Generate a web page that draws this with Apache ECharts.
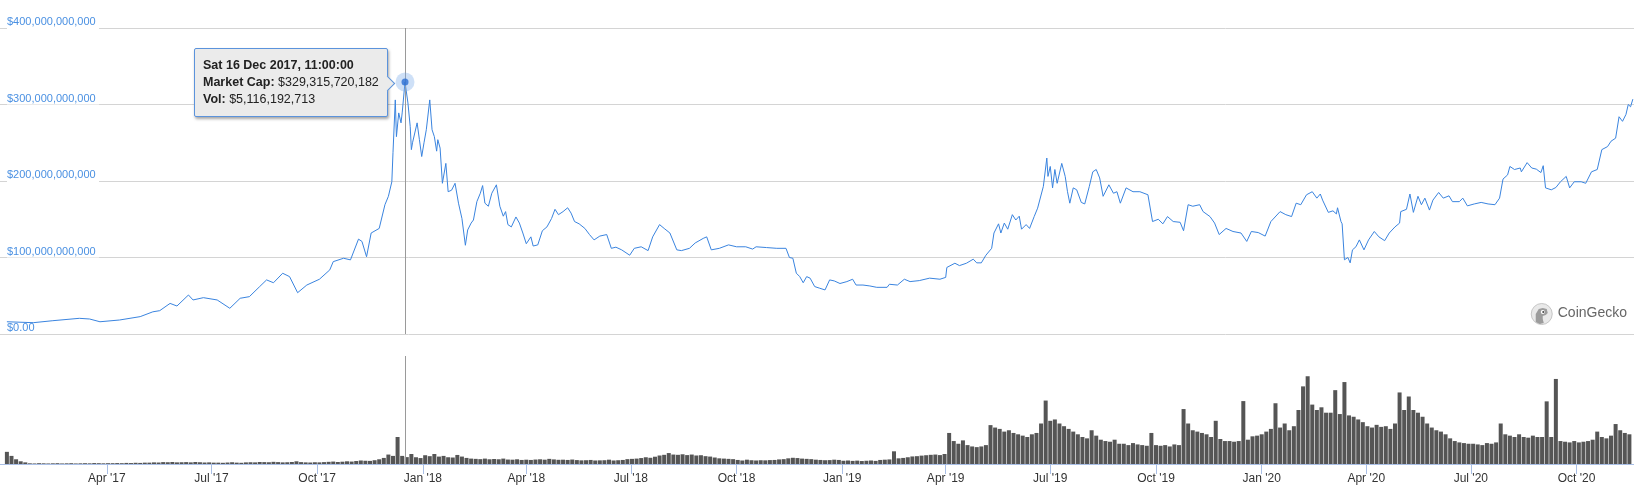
<!DOCTYPE html>
<html>
<head>
<meta charset="utf-8">
<script src="https://cdn.jsdelivr.net/npm/echarts@6/dist/echarts.min.js"></script>
<style>
html,body{margin:0;padding:0;background:#fff;}
#chart{width:1634px;height:501px;}
</style>
</head>
<body>
<div id="chart"></div>
<script>
// ---- Market cap (billions USD) ----
const mcapDates = [
'2017-01-04','2017-01-27','2017-02-13','2017-03-08','2017-03-17','2017-03-26','2017-04-12','2017-04-30','2017-05-11','2017-05-17',
'2017-05-26','2017-06-01','2017-06-11','2017-06-15','2017-06-24','2017-07-06','2017-07-17','2017-07-26','2017-08-03','2017-08-12',
'2017-08-18','2017-08-24','2017-09-01','2017-09-07','2017-09-14','2017-09-22','2017-10-03','2017-10-12','2017-10-15','2017-10-24',
'2017-10-30','2017-11-06','2017-11-09','2017-11-13','2017-11-17','2017-11-24','2017-11-29','2017-12-02','2017-12-05','2017-12-06',
'2017-12-08','2017-12-09','2017-12-11','2017-12-13','2017-12-14','2017-12-16 11:00:00','2017-12-19','2017-12-21','2017-12-22','2017-12-23',
'2017-12-27','2017-12-29','2017-12-31','2018-01-02','2018-01-04','2018-01-07','2018-01-09','2018-01-11','2018-01-13','2018-01-14',
'2018-01-16','2018-01-18','2018-01-19','2018-01-21','2018-01-23','2018-01-26','2018-01-29','2018-02-01','2018-02-04','2018-02-07',
'2018-02-09','2018-02-12','2018-02-14','2018-02-17','2018-02-20','2018-02-22','2018-02-24','2018-02-27','2018-03-02','2018-03-06',
'2018-03-09','2018-03-12','2018-03-14','2018-03-16','2018-03-19','2018-03-23','2018-03-26','2018-03-29','2018-04-01','2018-04-05',
'2018-04-07','2018-04-11','2018-04-15','2018-04-19','2018-04-23','2018-04-26','2018-04-29','2018-05-03','2018-05-07','2018-05-10',
'2018-05-13','2018-05-17','2018-05-22','2018-05-26','2018-05-30','2018-06-04','2018-06-10','2018-06-14','2018-06-18','2018-06-23',
'2018-06-30','2018-07-04','2018-07-10','2018-07-16','2018-07-20','2018-07-26','2018-07-30','2018-08-04','2018-08-10','2018-08-14',
'2018-08-21','2018-08-26','2018-09-02','2018-09-05','2018-09-09','2018-09-16','2018-09-24','2018-10-01','2018-10-09','2018-10-15',
'2018-10-18','2018-10-27','2018-11-05','2018-11-13','2018-11-16','2018-11-19','2018-11-22','2018-11-25','2018-11-28','2018-12-01',
'2018-12-04','2018-12-08','2018-12-12','2018-12-17','2018-12-21','2018-12-25','2018-12-30','2019-01-05','2019-01-10','2019-01-13',
'2019-01-19','2019-01-25','2019-01-31','2019-02-09','2019-02-11','2019-02-18','2019-02-24','2019-03-01','2019-03-09','2019-03-18',
'2019-03-27','2019-04-01','2019-04-02','2019-04-09','2019-04-13','2019-04-19','2019-04-25','2019-04-28','2019-05-02','2019-05-06',
'2019-05-11','2019-05-13','2019-05-17','2019-05-19','2019-05-22','2019-05-25','2019-05-29','2019-06-01','2019-06-04','2019-06-06',
'2019-06-10','2019-06-13','2019-06-17','2019-06-20','2019-06-25','2019-06-28','2019-06-29','2019-07-01','2019-07-03','2019-07-05',
'2019-07-07','2019-07-11','2019-07-14','2019-07-16','2019-07-18','2019-07-21','2019-07-24','2019-07-28','2019-07-31','2019-08-04',
'2019-08-07','2019-08-10','2019-08-13','2019-08-16','2019-08-21','2019-08-25','2019-08-28','2019-08-31','2019-09-05','2019-09-11',
'2019-09-17','2019-09-24','2019-09-28','2019-10-03','2019-10-07','2019-10-11','2019-10-16','2019-10-22','2019-10-25','2019-10-29',
'2019-11-02','2019-11-08','2019-11-11','2019-11-17','2019-11-21','2019-11-25','2019-12-01','2019-12-07','2019-12-14','2019-12-19',
'2019-12-23','2019-12-29','2020-01-04','2020-01-09','2020-01-17','2020-01-22','2020-01-27','2020-01-31','2020-02-04','2020-02-09',
'2020-02-14','2020-02-18','2020-02-21','2020-02-23','2020-02-28','2020-03-03','2020-03-06','2020-03-07','2020-03-10','2020-03-11',
'2020-03-13','2020-03-16','2020-03-18','2020-03-20','2020-03-23','2020-03-26','2020-03-30','2020-04-03','2020-04-08','2020-04-12',
'2020-04-17','2020-04-21','2020-04-26','2020-04-30','2020-05-01','2020-05-06','2020-05-09','2020-05-12','2020-05-16','2020-05-19',
'2020-05-22','2020-05-26','2020-05-29','2020-06-03','2020-06-07','2020-06-12','2020-06-15','2020-06-21','2020-06-24','2020-06-28',
'2020-07-04','2020-07-10','2020-07-16','2020-07-22','2020-07-26','2020-07-29','2020-08-02','2020-08-04','2020-08-08','2020-08-13',
'2020-08-14','2020-08-19','2020-08-23','2020-08-27','2020-08-31','2020-09-02','2020-09-04','2020-09-09','2020-09-13','2020-09-17',
'2020-09-22','2020-09-25','2020-09-29','2020-10-05','2020-10-09','2020-10-14','2020-10-19','2020-10-23','2020-10-28','2020-10-31',
'2020-11-04','2020-11-07','2020-11-10','2020-11-13','2020-11-15','2020-11-17','2020-11-19'
];
const mcapBillions = [
16,14.8,17.4,20.5,19.6,16,18.3,22.7,29,30.5,
40,36.6,51,44.5,47.5,44.5,33.6,46.7,48.8,62,
70.7,67,79.4,75,54,64,71.6,83.8,94.6,99,
96.9,124,121,101,132,138,169,180,199,237,
306,258,289,276,289,329.315720182,302,271,241,250,
276,254,232,250,267,306,267,258,239,254,
243,197,195,223,186,188,197,171,151,116,
136,145,149,173,184,194,171,167,184,195,
167,154,160,143,140,153,145,132,118,127,
115,116.5,135,140,151,163,156,160,165,158,
147,144,138,130,123,128,130,112,113.5,110,
103,112,114,109,127,143,138,132,110,109,
112,119,125,127,110,112,116.5,114,114,111,
114,113,112,112,100,99,79.5,75,67,75,
73,62,60,57.6,70.7,69.4,66,68.5,71.6,64,
64,62.8,61,61,65,64,71.6,68.5,69.8,73,
71.6,74,87,92.5,89.4,92.5,97.8,93,93,103,
112,132,144,132,145,137,156,149,154,137,
143,138,153.5,164.5,193,230,206,219,191,215,
197,223,206,186,171,191,188.5,172,170,193,
212,215,204,180,195,184,186,171,191,186,
186,182,147,150,144,153.5,147,146,135,169,
167,169,160,153.5,145,130,138,134,132,121,
134,132.6,128,147,160,156,153.5,171,169,182,
186,177.6,183,175,159,161,157,165,147,144,
97,100,93,110,114,123,110,123,134,127,
122,132,140,145,160,163,183,159,180,169,
177.6,162,175,185,177.6,180.6,173,173,177.6,167.5,
170,172,170,169,177.6,202.5,208,219,215,217,
212,224,217,215.5,211,220,191,188.5,191.5,199,
206,191,199,199,197,212,215,241,245,252,
256,284,278,287,300,297,307
];

// ---- Volume (billions USD), one bar every volStepDays days from volStart ----
const volStart = '2017-01-04';
const volStepDays = 4;
const volBillions = [
// 2017
9,6,3.5,2,1.2,
0.5,0.4,0.6,0.5,0.4,0.5,0.6,0.4,0.5,0.6,
0.4,0.5,0.6,0.5,0.7,0.6,0.5,0.6,
0.6,0.7,0.6,0.8,0.7,0.9,0.8,1.0,
1.0,1.2,1.1,1.4,1.3,1.5,1.2,
1.3,1.4,1.2,1.5,1.3,1.1,1.2,1.0,
1.0,0.9,1.1,1.3,1.0,0.9,1.2,
1.3,1.2,1.5,1.4,1.3,1.6,1.4,1.2,
1.3,1.5,2.0,1.4,1.2,1.1,1.3,
1.2,1.4,1.6,1.8,1.5,1.7,2.0,1.8,
2.2,2.6,2.4,2.3,2.8,3.5,4.5,7,
6,20,6,5.1,7.4,5,4.4,
// 2018
6.5,5.8,7.4,5.5,6,5,4.8,6.7,
5.5,4.5,4,3.8,3.6,4,3.5,
3.7,3.5,4,3.3,3.2,3.5,3,3.2,
3,3.3,3.5,3.2,3.8,3.4,3.1,
3.2,3.0,3.3,2.9,2.7,2.8,3.0,2.6,
2.7,2.8,3.2,2.6,2.8,3.0,3.6,
3.8,4.0,4.4,5.0,4.6,5.4,6.3,6.8,
8.1,7.0,6.8,7.2,6.6,7.0,6.3,6.5,
5.8,5.5,4.8,4.2,4.0,3.8,3.6,
3.0,2.6,3.2,2.8,2.6,2.8,2.7,2.9,
3.0,3.4,3.6,4.2,4.6,4.4,4.0,3.8,
3.6,3.2,3.0,2.8,2.9,3.2,3.0,
// 2019
2.4,2.6,2.3,2.5,2.2,2.4,2.6,2.3,
3.0,3.2,3.4,9.4,4.2,4.5,5.0,
5.6,5.8,6.2,6.5,6.8,7.0,6.6,7.4,
23,17,15,17.5,14,13,12.5,
13,14,28.8,27,26,24,25,23,
22,21,20,22,23,30,47,
32,33,30,28,26,24,22,20,
19,25,21,18,17,16.5,18,15,
15,14,15.5,14.5,14,13.5,23,
14,13.5,14,13,14.5,14,40.7,30,
25,24,23,22,20,32,18.5,17,
17,16.5,17,46.6,18,20.5,21,
// 2020
22,24,26,45,27,30,25,28,
40,57.5,65,44,40,42,38,
38,54.7,37,60.7,36,35,33,31,
28,27,29,27.5,28,26,30,53,
40,50,40,38,35,30,27,
25,24,22,19,17,16,15.5,15,
15,14.5,14,15.5,15,16,30,22,
21,20,22,20,19.5,21,20,
20,46.4,20,63,17,16.5,16,17,
16,16.5,17,18,24,20,19,21,
29.6,25,23,22
];

// ---- Axis ticks ----
const xTickDates = ['2017-04-01','2017-07-01','2017-10-01','2018-01-01','2018-04-01','2018-07-01','2018-10-01',
  '2019-01-01','2019-04-01','2019-07-01','2019-10-01','2020-01-01','2020-04-01','2020-07-01','2020-10-01'];
const xTickLabels = ["Apr '17","Jul '17","Oct '17","Jan '18","Apr '18","Jul '18","Oct '18",
  "Jan '19","Apr '19","Jul '19","Oct '19","Jan '20","Apr '20","Jul '20","Oct '20"];
const yTickBillions = [0, 100, 200, 300, 400];
const xRange = ['2016-12-29', '2020-11-20'];

// ---- Highlighted point (tooltip) ----
const highlight = { time: '2017-12-16 11:00:00', marketCap: 329315720182, volume: 5116192713 };

function toTime(s) {
  const m = s.match(/(\d+)-(\d+)-(\d+)(?: (\d+):(\d+):(\d+))?/);
  return new Date(+m[1], +m[2] - 1, +m[3], +(m[4] || 0), +(m[5] || 0), +(m[6] || 0)).getTime();
}
const lineData = mcapDates.map((d, i) => [toTime(d), mcapBillions[i]]);
const vs = volStart.split('-').map(Number);
const volData = volBillions.map((v, i) => [new Date(vs[0], vs[1] - 1, vs[2] + i * volStepDays).getTime(), v]);
const tickTimes = xTickDates.map(toTime);
const hlTime = toTime(highlight.time);
const hlCap = highlight.marketCap / 1e9;
const xMin = toTime(xRange[0]), xMax = toTime(xRange[1]);

function fmtMoney(n) { return '$' + Math.round(n).toLocaleString('en-US'); }
function fmtDate(t) {
  const d = new Date(t);
  const days = ['Sun','Mon','Tue','Wed','Thu','Fri','Sat'];
  const months = ['Jan','Feb','Mar','Apr','May','Jun','Jul','Aug','Sep','Oct','Nov','Dec'];
  const p = n => String(n).padStart(2, '0');
  return days[d.getDay()] + ' ' + d.getDate() + ' ' + months[d.getMonth()] + ' ' + d.getFullYear() + ', ' +
    p(d.getHours()) + ':' + p(d.getMinutes()) + ':' + p(d.getSeconds());
}
function tickLabel(v) {
  for (let i = 0; i < tickTimes.length; i++) if (Math.abs(tickTimes[i] - v) < 43200000) return xTickLabels[i];
  return '';
}

const FONT = "'Liberation Sans', Arial, sans-serif";
const YCOLOR = '#4a90e2';
const chart = echarts.init(document.getElementById('chart'), null, { renderer: 'canvas' });

function crossLine() {
  return {
    silent: true, symbol: 'none', animation: false,
    label: { show: false },
    lineStyle: { color: '#9a9a9a', width: 1, type: 'solid' },
    data: [{ xAxis: hlTime }]
  };
}

const option = {
  animation: false,
  backgroundColor: '#fff',
  grid: [
    { left: 0, right: 0, top: 28, height: 306 },
    { left: 0, right: 0, top: 356, height: 108 }
  ],
  xAxis: [
    { type: 'value', gridIndex: 0, min: xMin, max: xMax, show: false, splitLine: { show: false } },
    {
      type: 'value', gridIndex: 1, min: xMin, max: xMax,
      axisLine: { show: true, lineStyle: { color: '#a9bfe6', width: 1 } },
      axisTick: { show: true, customValues: tickTimes, length: 10, lineStyle: { color: '#a9bfe6' } },
      axisLabel: { customValues: tickTimes, margin: 9, color: '#333', fontSize: 12, fontFamily: FONT, formatter: tickLabel },
      splitLine: { show: false }
    }
  ],
  yAxis: [
    {
      type: 'value', gridIndex: 0, min: yTickBillions[0], max: yTickBillions[yTickBillions.length - 1], interval: 100,
      axisLine: { show: false }, axisTick: { show: false },
      axisLabel: {
        inside: true, margin: 7, color: YCOLOR, fontSize: 11, fontFamily: FONT,
        verticalAlign: 'middle', lineHeight: 12,
        formatter: v => v === 0 ? '{z|$0.00}\n{z| }' : '{t|' + fmtMoney(v * 1e9) + '}\n{c| }',
        rich: {
          t: { color: YCOLOR, fontSize: 11, fontFamily: FONT, lineHeight: 12, backgroundColor: '#fff', padding: [0, 3, 0, 0] },
          c: { width: 92, height: 12, lineHeight: 12, backgroundColor: '#fff' },
          z: { color: YCOLOR, fontSize: 11, fontFamily: FONT, lineHeight: 12 }
        }
      },
      splitLine: { show: true, lineStyle: { color: '#d4d4d4', width: 1 } }
    },
    { type: 'value', gridIndex: 1, min: 0, max: 80, show: false, splitLine: { show: false } }
  ],
  tooltip: {
    trigger: 'item', triggerOn: 'none', alwaysShowContent: true, transitionDuration: 0,
    backgroundColor: '#ebebeb', borderColor: '#5b93dc', borderWidth: 1, padding: [8, 8],
    textStyle: { color: '#222', fontSize: 12.5, fontFamily: FONT },
    extraCssText: 'box-shadow:1px 2px 3px rgba(0,0,0,0.35);border-radius:2px;line-height:17px;',
    position: function (pt, params, dom, rect, size) {
      const p = chart.convertToPixel({ xAxisIndex: 0, yAxisIndex: 0 }, [hlTime, hlCap]);
      return [p[0] - size.contentSize[0] - 17, p[1] - size.contentSize[1] / 2];
    },
    formatter: function () {
      return '<b>' + fmtDate(hlTime) + '</b><br/>' +
        '<b>Market Cap:</b> ' + fmtMoney(highlight.marketCap) + '<br/>' +
        '<b>Vol:</b> ' + fmtMoney(highlight.volume) +
        '<div style="position:absolute;right:-6px;top:50%;margin-top:-5px;width:10px;height:10px;background:#ebebeb;' +
        'border-top:1px solid #5b93dc;border-right:1px solid #5b93dc;transform:rotate(45deg);"></div>';
    }
  },
  series: [
    {
      name: 'Market Cap', type: 'line', xAxisIndex: 0, yAxisIndex: 0, data: lineData,
      showSymbol: false, symbol: 'none', z: 3, silent: true,
      lineStyle: { color: '#3a84df', width: 1 },
      markLine: crossLine()
    },
    {
      name: 'Vol', type: 'bar', xAxisIndex: 1, yAxisIndex: 1, data: volData, barWidth: 4,
      silent: true, itemStyle: { color: '#555' },
      markLine: crossLine()
    },
    {
      name: 'halo', type: 'scatter', xAxisIndex: 0, yAxisIndex: 0, data: [[hlTime, hlCap]],
      symbolSize: 19, z: 5, silent: true, itemStyle: { color: 'rgba(120,168,232,0.45)' }
    },
    {
      name: 'point', type: 'scatter', xAxisIndex: 0, yAxisIndex: 0, data: [[hlTime, hlCap]],
      symbolSize: 7, z: 6, itemStyle: { color: '#2a6ed3' }
    }
  ],
  graphic: [
    {
      type: 'group', right: 7, top: 303, silent: true,
      children: [
        { type: 'circle', shape: { cx: 11, cy: 11, r: 10.5 }, style: { fill: '#e9e9e9', stroke: '#c6c6c6', lineWidth: 1 } },
        { type: 'polygon', shape: { points: [[5, 19], [5, 11], [8, 6], [12, 5], [16, 6], [17, 10], [15, 12], [12, 13], [12, 16], [13, 20], [9, 21]] }, style: { fill: '#9c9c9c' } },
        { type: 'circle', shape: { cx: 12, cy: 9, r: 2 }, style: { fill: '#fff' } },
        { type: 'circle', shape: { cx: 12.5, cy: 9, r: 1 }, style: { fill: '#444' } },
        { type: 'text', x: 27, y: 3, style: { text: 'CoinGecko', fill: '#666', fontSize: 14, fontFamily: FONT } }
      ]
    }
  ]
};

chart.setOption(option);
chart.dispatchAction({ type: 'showTip', seriesIndex: 3, dataIndex: 0 });
setTimeout(() => chart.dispatchAction({ type: 'showTip', seriesIndex: 3, dataIndex: 0 }), 50);
</script>
</body>
</html>
